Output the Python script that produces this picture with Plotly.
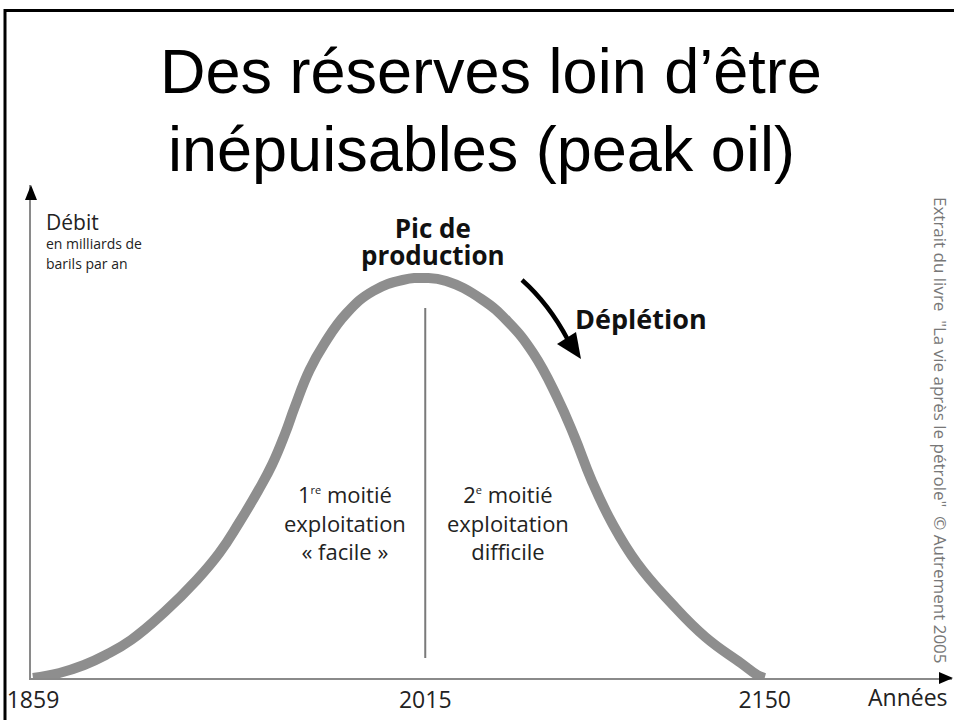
import plotly.graph_objects as go

# ---- data ----
years = [1859.0, 1869.5, 1879.3, 1887.9, 1898.0, 1911.3, 1924.1, 1933.1, 1940.9, 1948.7,
         1954.2, 1959.2, 1963.1, 1969.0, 1974.8, 1983.8, 1994.3, 2006.0, 2015.0,
         2023.3, 2037.3, 2048.0, 2057.9, 2067.4, 2074.4, 2081.1, 2089.3, 2099.2,
         2112.8, 2126.4, 2140.5, 2147.1, 2150.0]
debit = [0.0, 1.25, 3.25, 5.75, 9.5, 16.5, 24.5, 31.25, 38.75, 47.0,
         53.5, 61.0, 67.75, 77.0, 83.5, 91.25, 96.75, 99.5, 100.0,
         99.25, 94.75, 89.0, 81.25, 70.25, 60.25, 49.5, 38.75, 28.75,
         18.75, 10.25, 3.75, 0.75, 0.0]
peak_year = [2015, 2015]
peak_line = [5.0, 92.5]
tick_years = [1859, 2015, 2150]
tick_labels = ["1859", "2015", "2150"]

# ---- layout geometry ----
W, H = 954, 720
L, R, T, B = 31, 2, 185, 42
PW, PH = W - L - R, H - T - B


def px2x(px):
    return (px - L) / PW


def py2y(py):
    return (H - B - py) / PH


def P(px, py):
    return f"{px2x(px):.5f},{py2y(py):.5f}"


FONT = "Open Sans, Noto Sans, sans-serif"
TXT = "#222222"

fig = go.Figure()
fig.add_trace(go.Scatter(x=years, y=debit, mode="lines",
                         line=dict(color="#8e8e8e", width=10, shape="spline", smoothing=1.3),
                         hoverinfo="skip", showlegend=False, cliponaxis=False))
fig.add_trace(go.Scatter(x=peak_year, y=peak_line, mode="lines",
                         line=dict(color="#7a7a7a", width=2),
                         hoverinfo="skip", showlegend=False))


def label(text, px, py, size, anchor="center", color=TXT, family=FONT, **kw):
    return dict(text=text, x=px2x(px), y=py2y(py), xref="paper", yref="paper",
                showarrow=False, xanchor=anchor, yanchor="middle",
                font=dict(family=family, size=size, color=color), **kw)


TITLE_FONT = "Liberation Sans, Arial, sans-serif"
ann = [
    label("Des réserves loin d’être", 491, 71, 63, color="#000000", family=TITLE_FONT),
    label("inépuisables (peak oil)", 481, 149, 63, color="#000000", family=TITLE_FONT),
    label("Débit", 44, 222, 21, anchor="left"),
    label("<span style='font-size:14px'>en milliards de</span><br>"
          "<span style='font-size:14px'>barils par an</span>", 44, 253, 15, anchor="left", align="left"),
    label("<span style='font-size:26px'><b>Pic de</b></span><br>"
          "<span style='font-size:26px'><b>production</b></span>",
          433, 241, 20.5, color="#111111", align="center"),
    label("<b>Déplétion</b>", 573, 318, 27, anchor="left", color="#111111"),
    label("1<sup><span style='font-size:11px'>re</span></sup> moitié<br>exploitation<br>« facile »",
          345, 522, 22, align="center"),
    label("2<sup><span style='font-size:11px'>e</span></sup> moitié<br>exploitation<br>difficile",
          508, 522, 22, align="center"),
    label("Années", 950, 697, 23, anchor="right"),
    label("Extrait du livre  \"La vie après le pétrole\"  © Autrement 2005", 941, 430, 17,
          color="#777777", textangle=90),
]

shapes = [
    # frame
    dict(type="line", xref="paper", yref="paper", x0=px2x(5), x1=px2x(5), y0=py2y(9), y1=py2y(730),
         line=dict(color="#000000", width=3)),
    dict(type="line", xref="paper", yref="paper", x0=px2x(4), x1=px2x(960), y0=py2y(10.5), y1=py2y(10.5),
         line=dict(color="#000000", width=3)),
    # axis arrowheads
    dict(type="path", xref="paper", yref="paper",
         path=f"M{P(31, 185)} L{P(25, 200)} L{P(37, 200)} Z", fillcolor="#000000", line=dict(width=0)),
    dict(type="path", xref="paper", yref="paper",
         path=f"M{P(953, 678)} L{P(939, 672)} L{P(939, 684)} Z", fillcolor="#000000", line=dict(width=0)),
    # depletion arrow
    dict(type="path", xref="paper", yref="paper",
         path=f"M{P(522, 280)} Q{P(549, 304)} {P(568, 340)}", line=dict(color="#000000", width=4.5)),
    dict(type="path", xref="paper", yref="paper",
         path=f"M{P(581, 359)} L{P(557, 344)} L{P(576, 332)} Z", fillcolor="#000000", line=dict(width=0)),
]

x0 = 1858.2
x1 = 2224.5
fig.update_layout(
    width=W, height=H, margin=dict(l=L, r=R, t=T, b=B),
    paper_bgcolor="white", plot_bgcolor="white",
    showlegend=False, annotations=ann, shapes=shapes,
    xaxis=dict(range=[x0, x1], showgrid=False, zeroline=False, showline=True,
               linecolor="#8a8a8a", linewidth=2, ticks="", tickvals=tick_years, ticktext=tick_labels,
               tickfont=dict(family=FONT, size=23, color=TXT), fixedrange=True),
    yaxis=dict(range=[0, 123.25], showgrid=False, zeroline=False, showline=True,
               linecolor="#8a8a8a", linewidth=2, ticks="", showticklabels=False, fixedrange=True),
)

fig.write_html("out.html", config={"displayModeBar": False},
               post_script="document.body.style.margin='0';document.body.style.overflow='hidden';")
